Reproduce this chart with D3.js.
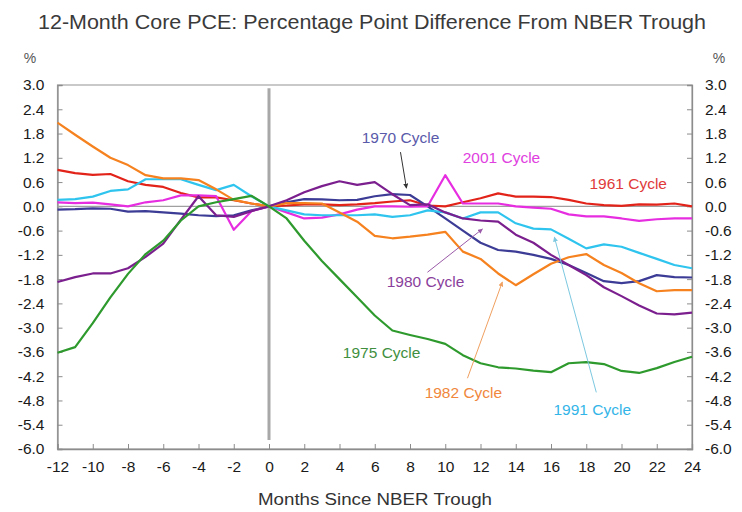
<!DOCTYPE html>
<html><head><meta charset="utf-8">
<script src="https://cdn.jsdelivr.net/npm/d3@7"></script>
<style>body{margin:0;background:#fff}svg{display:block}text{font-family:"Liberation Sans",Arial,sans-serif}</style>
</head><body><svg id="c" width="742" height="512"></svg>
<script>
const months = [-12,-11,-10,-9,-8,-7,-6,-5,-4,-3,-2,-1,0,1,2,3,4,5,6,7,8,9,10,11,12,13,14,15,16,17,18,19,20,21,22,23,24];
const cycle1961 = [0.9,0.82,0.78,0.8,0.62,0.53,0.48,0.33,0.22,0.22,0.15,0.07,0,0.02,0.05,0.05,0.03,0.05,0.08,0.12,0.15,0.02,0.0,0.1,0.2,0.32,0.24,0.24,0.23,0.16,0.07,0.03,0.01,0.05,0.04,0.07,0.0];
const cycle1970 = [-0.08,-0.07,-0.05,-0.06,-0.13,-0.12,-0.15,-0.18,-0.22,-0.24,-0.22,-0.1,0,0.1,0.18,0.17,0.15,0.16,0.25,0.3,0.28,0.0,-0.3,-0.6,-0.9,-1.08,-1.12,-1.2,-1.3,-1.45,-1.65,-1.85,-1.9,-1.85,-1.7,-1.75,-1.76];
const cycle1975 = [-3.62,-3.48,-2.89,-2.25,-1.67,-1.18,-0.85,-0.35,0.0,0.1,0.18,0.26,0,-0.3,-0.85,-1.35,-1.8,-2.25,-2.7,-3.07,-3.18,-3.28,-3.4,-3.68,-3.88,-3.98,-4.01,-4.06,-4.1,-3.88,-3.85,-3.9,-4.07,-4.12,-4.0,-3.85,-3.72];
const cycle1980 = [-1.87,-1.75,-1.66,-1.66,-1.53,-1.25,-0.92,-0.33,0.25,-0.22,-0.26,-0.12,0,0.15,0.35,0.5,0.62,0.53,0.6,0.3,0.03,0.05,-0.15,-0.3,-0.35,-0.38,-0.7,-0.9,-1.2,-1.45,-1.7,-2.0,-2.22,-2.45,-2.65,-2.67,-2.63];
const cycle1982 = [2.07,1.77,1.48,1.2,1.02,0.77,0.69,0.69,0.65,0.42,0.16,0.07,0,0.08,0.08,0.07,-0.15,-0.38,-0.73,-0.79,-0.75,-0.7,-0.63,-1.12,-1.3,-1.66,-1.95,-1.68,-1.42,-1.26,-1.18,-1.45,-1.65,-1.9,-2.1,-2.07,-2.07];
const cycle1991 = [0.16,0.18,0.24,0.38,0.42,0.67,0.67,0.67,0.53,0.4,0.53,0.25,0,-0.1,-0.2,-0.22,-0.22,-0.22,-0.2,-0.26,-0.22,-0.1,-0.15,-0.3,-0.15,-0.15,-0.42,-0.55,-0.57,-0.8,-1.04,-0.94,-1.0,-1.15,-1.3,-1.45,-1.53];
const cycle2001 = [0.1,0.08,0.09,0.05,0.0,0.1,0.15,0.27,0.27,0.25,-0.58,-0.12,0,-0.15,-0.3,-0.28,-0.2,-0.08,0.0,0.0,-0.01,0.0,0.77,0.07,0.07,0.07,0.0,-0.03,-0.06,-0.2,-0.25,-0.25,-0.3,-0.36,-0.32,-0.3,-0.3];
const seriesNames = ["1961 Cycle","1970 Cycle","1975 Cycle","1980 Cycle","1982 Cycle","1991 Cycle","2001 Cycle"];
const seriesValues = [cycle1961,cycle1970,cycle1975,cycle1980,cycle1982,cycle1991,cycle2001];
const xTicks = [-12,-10,-8,-6,-4,-2,0,2,4,6,8,10,12,14,16,18,20,22,24];
const yTicks = [3.0,2.4,1.8,1.2,0.6,0.0,-0.6,-1.2,-1.8,-2.4,-3.0,-3.6,-4.2,-4.8,-5.4,-6.0];

const colors = {"1961 Cycle":"#e2231a","1970 Cycle":"#3c3c96","1975 Cycle":"#2e9a2e","1980 Cycle":"#7b1f8e","1982 Cycle":"#f5821f","1991 Cycle":"#2ec4ee","2001 Cycle":"#e62ee0"};
const labelColors = {"1961 Cycle":"#e03a3a","1970 Cycle":"#5a5aaa","1975 Cycle":"#3f8f3f","1980 Cycle":"#8a3f9c","1982 Cycle":"#f0873c","1991 Cycle":"#33b5e8","2001 Cycle":"#e040e0"};
const labels = [
  {name:"1970 Cycle", m:7.46, v:1.57, arrow:[[7.46,1.34],[7.8,0.45]], ac:"#333"},
  {name:"2001 Cycle", m:13.19, v:1.07},
  {name:"1961 Cycle", m:20.38, v:0.43},
  {name:"1980 Cycle", m:8.88, v:-2.0, arrow:[[8.99,-1.63],[12.11,-0.56]], ac:"#9a5aa8"},
  {name:"1975 Cycle", m:6.39, v:-3.76},
  {name:"1982 Cycle", m:11.03, v:-4.74, arrow:[[11.26,-4.25],[13.24,-1.87]], ac:"#f0a060"},
  {name:"1991 Cycle", m:18.34, v:-5.17, arrow:[[18.57,-4.6],[16.19,-0.76]], ac:"#7cc8e0"}
];

const svg = d3.select("#c");
const L=57.5, R=692, T=85, B=449;
const x = d3.scaleLinear().domain([-12,24]).range([L,R]);
const y = d3.scaleLinear().domain([-6,3]).range([B,T]);

svg.append("text").attr("x",372).attr("y",29).attr("text-anchor","middle")
  .attr("font-size",19.5).attr("fill","#3a3a3a").attr("textLength",668).attr("lengthAdjust","spacingAndGlyphs")
  .text("12-Month Core PCE: Percentage Point Difference From NBER Trough");
svg.append("text").attr("x",30).attr("y",63).attr("text-anchor","middle").attr("font-size",14).attr("fill","#555").text("%");
svg.append("text").attr("x",719).attr("y",63).attr("text-anchor","middle").attr("font-size",14).attr("fill","#555").text("%");

svg.append("rect").attr("x",L).attr("y",T).attr("width",R-L).attr("height",B-T)
  .attr("fill","none").attr("stroke","#a6a6a6").attr("stroke-width",1.2);

const fmt = d=>d3.format(".1f")(d).replace("\u2212","-");
const fmtX = d=>String(d);
const yl = svg.append("g").attr("transform",`translate(${L},0)`)
  .call(d3.axisLeft(y).tickValues(yTicks).tickSize(-5).tickPadding(13).tickFormat(fmt));
const yr = svg.append("g").attr("transform",`translate(${R},0)`)
  .call(d3.axisRight(y).tickValues(yTicks).tickSize(-5).tickPadding(13).tickFormat(fmt));
const xa = svg.append("g").attr("transform",`translate(0,${B})`)
  .call(d3.axisBottom(x).tickValues(xTicks).tickSize(-5).tickPadding(12).tickFormat(fmtX));
[yl,yr,xa].forEach(g=>{
  g.select(".domain").attr("stroke","#8c8c8c").attr("stroke-width",1.3);
  g.selectAll(".tick line").attr("stroke","#8c8c8c");
  g.selectAll(".tick text").attr("font-size",15.5).attr("fill","#1a1a1a").attr("font-family","'Liberation Sans',Arial,sans-serif");
});

svg.append("text").attr("x",375).attr("y",505).attr("text-anchor","middle")
  .attr("font-family","Lato, 'Open Sans', sans-serif").attr("font-size",16).attr("fill","#333")
  .attr("textLength",234).attr("lengthAdjust","spacingAndGlyphs").text("Months Since NBER Trough");

svg.append("line").attr("x1",L).attr("x2",R).attr("y1",y(0)).attr("y2",y(0)).attr("stroke","#a0a0a0").attr("stroke-width",1.3);
svg.append("line").attr("x1",x(0)).attr("x2",x(0)).attr("y1",y(2.92)).attr("y2",y(-5.78)).attr("stroke","#a8a8a8").attr("stroke-width",3);

const line = d3.line().x((d,i)=>x(months[i])).y(d=>y(d));
const drawOrder = [0,1,6,5,4,3,2];
drawOrder.forEach(k=>{
  svg.append("path").datum(seriesValues[k]).attr("d",line).attr("fill","none")
    .attr("stroke",colors[seriesNames[k]]).attr("stroke-width",2.2).attr("stroke-linejoin","round");
});

const defs = svg.append("defs");
labels.forEach((lb,i)=>{
  if(lb.arrow){
    const id="ah"+i;
    defs.append("marker").attr("id",id).attr("viewBox","0 0 10 10").attr("refX",9).attr("refY",5)
      .attr("markerWidth",5).attr("markerHeight",5).attr("orient","auto")
      .append("path").attr("d","M0,0L10,5L0,10z").attr("fill",lb.ac);
    svg.append("line").attr("x1",x(lb.arrow[0][0])).attr("y1",y(lb.arrow[0][1]))
      .attr("x2",x(lb.arrow[1][0])).attr("y2",y(lb.arrow[1][1]))
      .attr("stroke",lb.ac).attr("stroke-width",1).attr("marker-end",`url(#${id})`);
  }
  svg.append("text").attr("x",x(lb.m)).attr("y",y(lb.v)).attr("text-anchor","middle")
    .attr("font-size",15.5).attr("fill",labelColors[lb.name]).text(lb.name);
});
</script></body></html>
